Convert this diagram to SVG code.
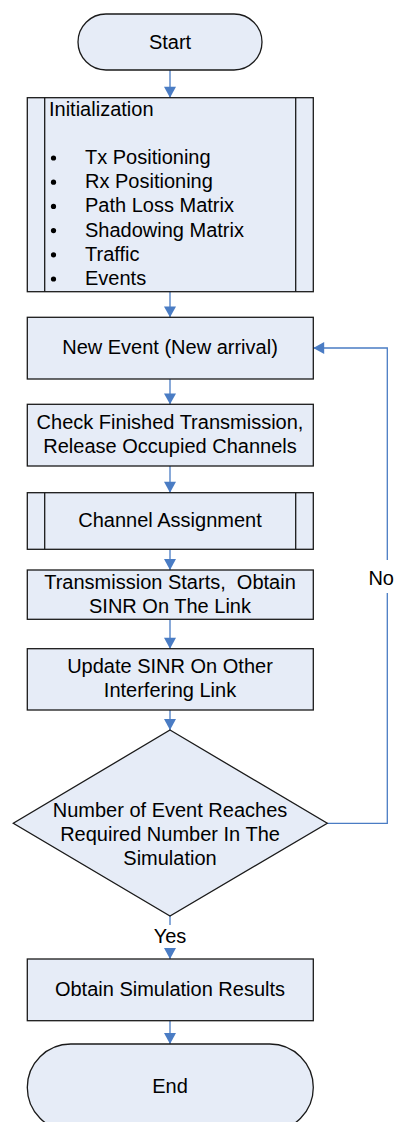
<svg xmlns="http://www.w3.org/2000/svg" width="396" height="1122" viewBox="0 0 396 1122">
<defs>
<style>
.box{fill:#E6ECF7;stroke:#1a1a1a;stroke-width:1.3}
.inner{fill:none;stroke:#1a1a1a;stroke-width:1.3}
.t{font-family:"Liberation Sans",Arial,sans-serif;font-size:20px;fill:#000;text-anchor:middle}
.tl{font-family:"Liberation Sans",Arial,sans-serif;font-size:20px;fill:#000}
.c{fill:none;stroke:#4A7CC4;stroke-width:1.3}
.lbl{font-family:"Liberation Sans",Arial,sans-serif;font-size:20px;fill:#000;text-anchor:middle}
</style>
<marker id="ah" markerUnits="userSpaceOnUse" markerWidth="12" markerHeight="12" viewBox="0 0 10 11" refX="10" refY="5.5" orient="auto">
<path d="M0,0 L10,5.5 L0,11 Z" fill="#4A7CC4"/>
</marker>
</defs>
<rect width="396" height="1122" fill="#fff"/>
<g id="connectors">
<path class="c" d="M170 70 V97.7" marker-end="url(#ah)"/>
<path class="c" d="M170 291.7 V317.3" marker-end="url(#ah)"/>
<path class="c" d="M170 379 V404.3" marker-end="url(#ah)"/>
<path class="c" d="M170 466 V492.7" marker-end="url(#ah)"/>
<path class="c" d="M170 549.3 V570" marker-end="url(#ah)"/>
<path class="c" d="M170 619.3 V648.7" marker-end="url(#ah)"/>
<path class="c" d="M170 710 V730" marker-end="url(#ah)"/>
<path class="c" d="M170 916 V925"/>
<path class="c" d="M170 950 V959" marker-end="url(#ah)"/>
<path class="c" d="M170 1020.7 V1044" marker-end="url(#ah)"/>
<path class="c" d="M327.3 823.3 H387.3 V593"/>
<path class="c" d="M387.3 560 V348 H313.3" marker-end="url(#ah)"/>
<text class="lbl" x="394" y="585" style="text-anchor:end">No</text>
<text class="lbl" x="170" y="943">Yes</text>
</g>
<g id="start">
<rect class="box" x="78" y="14" width="184" height="56" rx="28" ry="28"/>
<text class="t" x="170" y="48.5">Start</text>
</g>
<g id="init">
<rect class="box" x="27.3" y="97.7" width="286" height="194"/>
<path class="inner" d="M44.7 97.7 V291.7 M295.7 97.7 V291.7"/>
<text class="tl" x="49" y="115.5">Initialization</text>
<g>
<circle cx="53.5" cy="158" r="2.6" fill="#000"/><text class="tl" x="85" y="164">Tx Positioning</text>
<circle cx="53.5" cy="182.2" r="2.6" fill="#000"/><text class="tl" x="85" y="188.2">Rx Positioning</text>
<circle cx="53.5" cy="206.4" r="2.6" fill="#000"/><text class="tl" x="85" y="212.4">Path Loss Matrix</text>
<circle cx="53.5" cy="230.6" r="2.6" fill="#000"/><text class="tl" x="85" y="236.6">Shadowing Matrix</text>
<circle cx="53.5" cy="254.8" r="2.6" fill="#000"/><text class="tl" x="85" y="260.8">Traffic</text>
<circle cx="53.5" cy="279" r="2.6" fill="#000"/><text class="tl" x="85" y="285">Events</text>
</g>
</g>
<g id="newevent">
<rect class="box" x="27.3" y="317.3" width="286" height="61.7"/>
<text class="t" x="170" y="354">New Event (New arrival)</text>
</g>
<g id="check">
<rect class="box" x="27.3" y="404.3" width="286" height="61.7"/>
<text class="t" x="170" y="428.5">Check Finished Transmission,</text>
<text class="t" x="170" y="452.7">Release Occupied Channels</text>
</g>
<g id="channel">
<rect class="box" x="27.3" y="492.7" width="286" height="56.6"/>
<path class="inner" d="M44.7 492.7 V549.3 M295.7 492.7 V549.3"/>
<text class="t" x="170" y="527">Channel Assignment</text>
</g>
<g id="transmission">
<rect class="box" x="27.3" y="570" width="286" height="49.3"/>
<text class="t" x="170" y="588.5">Transmission Starts,&#160; Obtain</text>
<text class="t" x="170" y="612.5">SINR On The Link</text>
</g>
<g id="update">
<rect class="box" x="27.3" y="648.7" width="286" height="61.3"/>
<text class="t" x="170" y="672.5">Update SINR On Other</text>
<text class="t" x="170" y="696.7">Interfering Link</text>
</g>
<g id="decision">
<polygon class="box" points="170,730 327.3,823.3 170,916 13.3,823.3"/>
<text class="t" x="170" y="817">Number of Event Reaches</text>
<text class="t" x="170" y="841">Required Number In The</text>
<text class="t" x="170" y="865">Simulation</text>
</g>
<g id="results">
<rect class="box" x="27.3" y="959" width="286" height="61.7"/>
<text class="t" x="170" y="995.5">Obtain Simulation Results</text>
</g>
<g id="end">
<rect class="box" x="27.3" y="1044" width="286" height="87" rx="43.5" ry="43.5"/>
<text class="t" x="170" y="1093">End</text>
</g>
</svg>
